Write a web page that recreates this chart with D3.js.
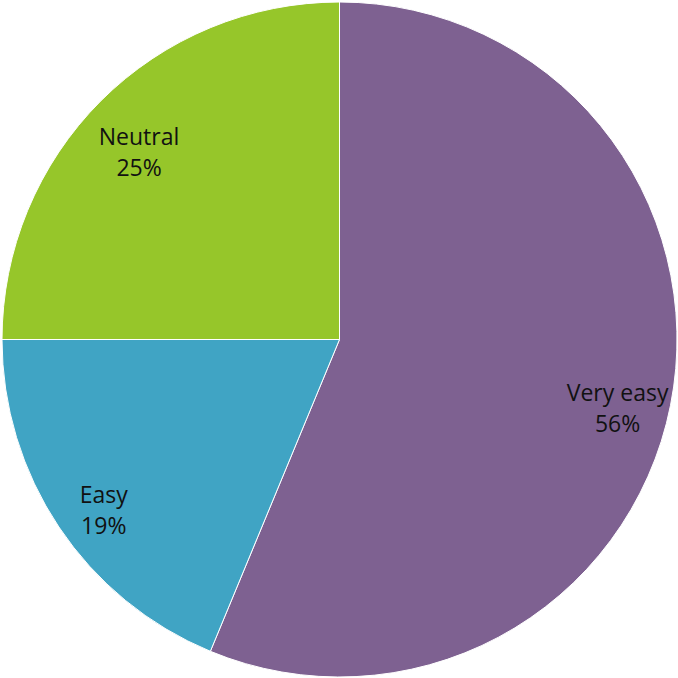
<!DOCTYPE html>
<html>
<head>
<meta charset="utf-8">
<script src="https://cdn.jsdelivr.net/npm/d3@7"></script>
<style>
  html, body { margin: 0; padding: 0; background: #ffffff; }
  svg { display: block; }
</style>
</head>
<body>
<div id="chart"></div>
<script>
// Survey responses: how easy was it?
const categories = ["Very easy", "Easy", "Neutral"];
const responses = [9, 3, 4];
const colors = ["#7E6191", "#40A4C4", "#96C62A"];

const width = 678, height = 678;
const cx = 339.5, cy = 339.5, radius = 337.5;

const svg = d3.select("#chart").append("svg")
  .attr("width", width)
  .attr("height", height);

const g = svg.append("g").attr("transform", `translate(${cx},${cy})`);

const data = categories.map((c, i) => ({ category: c, value: responses[i], color: colors[i] }));
const total = d3.sum(responses);

const pie = d3.pie().sort(null).value(d => d.value);
const arcs = pie(data);

const arc = d3.arc().innerRadius(0).outerRadius(radius);
const labelArc = d3.arc().innerRadius(radius * 0.84).outerRadius(radius * 0.84);

g.selectAll("path.slice")
  .data(arcs)
  .join("path")
  .attr("class", "slice")
  .attr("d", arc)
  .attr("fill", d => d.data.color)
  .attr("stroke", "#ffffff")
  .attr("stroke-width", 1);

const labels = g.selectAll("text.label")
  .data(arcs)
  .join("text")
  .attr("class", "label")
  .attr("transform", d => `translate(${labelArc.centroid(d)})`)
  .attr("text-anchor", "middle")
  .attr("font-family", "'Open Sans', 'Liberation Sans', sans-serif")
  .attr("font-size", 23)
  .attr("fill", "#111111");

labels.append("tspan")
  .attr("x", 0)
  .attr("y", 6)
  .text(d => d.data.category);

labels.append("tspan")
  .attr("x", 0)
  .attr("y", 37)
  .text(d => Math.round(d.data.value / total * 100) + "%");
</script>
</body>
</html>
